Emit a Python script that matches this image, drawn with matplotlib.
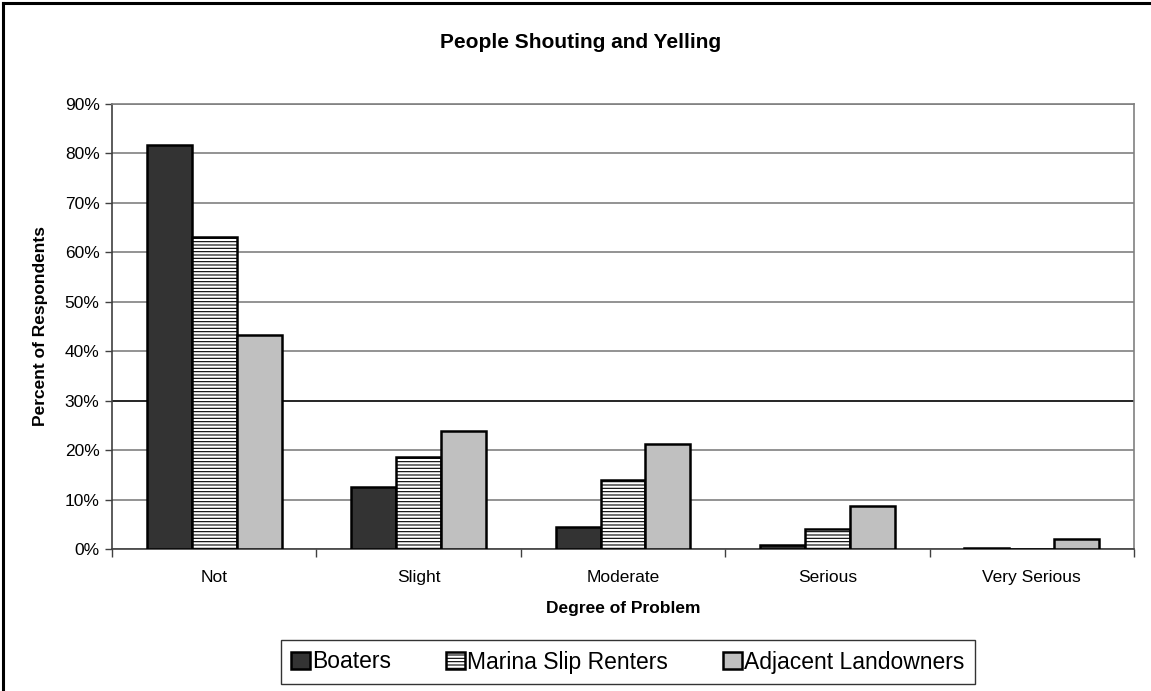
import matplotlib
matplotlib.use("Agg")
import matplotlib.pyplot as plt
from matplotlib.lines import Line2D
import numpy as np

categories = ["Not", "Slight", "Moderate", "Serious", "Very Serious"]
series_names = ["Boaters", "Marina Slip Renters", "Adjacent Landowners"]
boaters = [81.8, 12.5, 4.5, 0.8, 0.2]
marina = [63.1, 18.6, 13.9, 4.0, 0.0]
adjacent = [43.2, 23.8, 21.3, 8.7, 2.1]
yticks = [0, 10, 20, 30, 40, 50, 60, 70, 80, 90]

plt.rcParams['font.family'] = ['Liberation Sans', 'DejaVu Sans']
plt.rcParams['hatch.linewidth'] = 0.8

fig = plt.figure(figsize=(11.51, 6.91), dpi=100)
ax = fig.add_axes([112/1151, 1-549/691, (1134-112)/1151, (549-104)/691])

x = np.arange(len(categories))
w = 0.22
styles = [
    dict(color="#333333", hatch=None),
    dict(color="white", hatch="-----"),
    dict(color="#C0C0C0", hatch=None),
]
for i, (vals, name, st) in enumerate(zip([boaters, marina, adjacent], series_names, styles)):
    ax.bar(x + (i - 1) * w, vals, width=w, color=st["color"], edgecolor="black",
           linewidth=1.8, hatch=st["hatch"], label=name, zorder=3)

ax.set_xlim(-0.5, len(categories) - 0.5)
ax.set_ylim(0, 90)
ax.set_yticks(yticks)
ax.set_yticklabels([f"{t}%" for t in yticks], fontsize=12.5)
ax.yaxis.grid(True, color="#808080", linewidth=1.2, zorder=0)
for gl, t in zip(ax.get_ygridlines(), yticks):
    if t == 30:
        gl.set_color("black")
ax.set_axisbelow(True)

ax.set_xticks(x)
ax.set_xticklabels(categories, fontsize=12.5)
ax.tick_params(axis="x", length=0, pad=15)
ax.set_xticks(np.arange(-0.5, len(categories) + 0.5, 1), minor=True)
ax.tick_params(axis="x", which="minor", length=6, width=1, color="#404040", direction="out")
ax.tick_params(axis="y", length=5, width=1, color="#404040", direction="out", pad=4)

for s in ["left", "bottom"]:
    ax.spines[s].set_color("#404040")
    ax.spines[s].set_linewidth(1.2)
for s in ["top", "right"]:
    ax.spines[s].set_color("#808080")
    ax.spines[s].set_linewidth(1.2)

ax.set_xlabel("Degree of Problem", fontsize=12.5, fontweight="bold", labelpad=12)
ax.set_ylabel("Percent of Respondents", fontsize=12.5, fontweight="bold", labelpad=12)

fig.text(581/1151, 1-43/691, "People Shouting and Yelling", fontsize=15,
         fontweight="bold", ha="center", va="center")

leg = fig.legend(loc="center", bbox_to_anchor=(628/1151, 1-662/691), ncol=3,
                 fontsize=16.5, frameon=True, fancybox=False, shadow=False,
                 handlelength=0.8, handleheight=0.8, handletextpad=0.12,
                 columnspacing=2.4, borderpad=0.45, borderaxespad=0)
leg.get_frame().set_edgecolor("black")
leg.get_frame().set_linewidth(1.0)

# outer chart border (left and top visible)
fig.add_artist(Line2D([3/1151, 3/1151], [0, 1-3/691], transform=fig.transFigure,
                      color="black", linewidth=2.2))
fig.add_artist(Line2D([3/1151, 1], [1-3/691, 1-3/691], transform=fig.transFigure,
                      color="black", linewidth=2.2))

fig.savefig("out.png", dpi=100, facecolor="white")
